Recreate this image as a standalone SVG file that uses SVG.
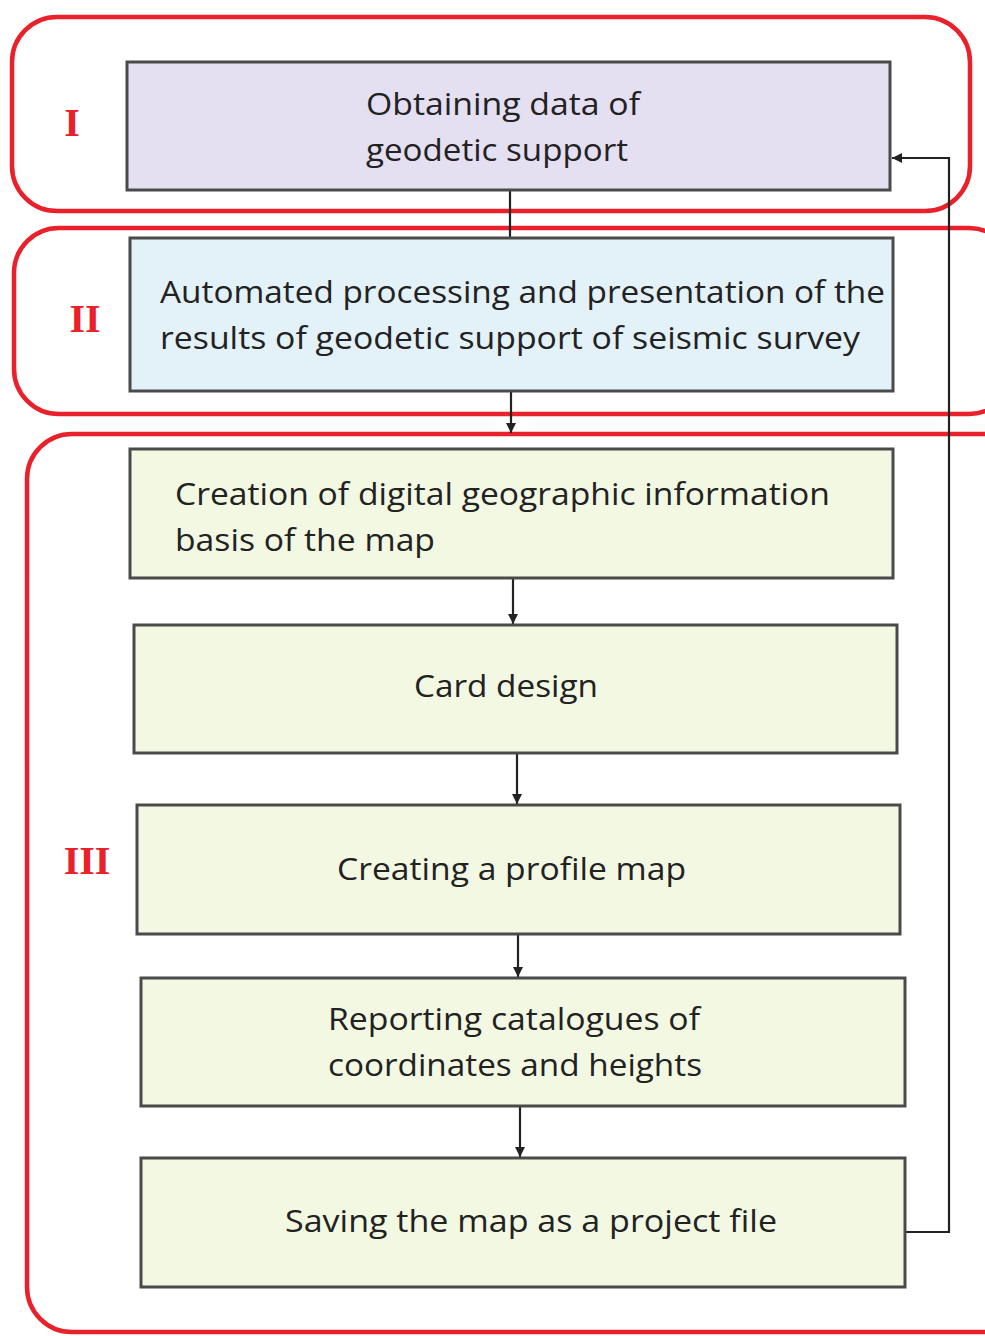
<svg xmlns="http://www.w3.org/2000/svg" width="985" height="1336" viewBox="0 0 985 1336">
<style>
.grp{fill:none;stroke:#e8212b;stroke-width:4.5}
.box{stroke:#4a4a4a;stroke-width:3}
.b1{fill:#e4dff1}
.b2{fill:#e3f1f8}
.b3{fill:#f3f8e2}
.t{font-family:"Open Sans","Liberation Sans",sans-serif;font-size:31px;fill:#222}
.rn{font-family:"Liberation Serif",serif;font-weight:bold;font-size:40px;fill:#e8212b}
.ln{fill:none;stroke:#222;stroke-width:2.2}
</style>
<defs>
<marker id="ah" viewBox="0 0 10 10" refX="10" refY="5" markerWidth="12" markerHeight="10" orient="auto" markerUnits="userSpaceOnUse">
<path d="M0,0 L10,5 L0,10 z" fill="#222"/>
</marker>
</defs>
<rect width="985" height="1336" fill="#fff"/>
<g id="groups">
<rect class="grp" x="12" y="17" width="958" height="194" rx="45"/>
<rect class="grp" x="14" y="228" width="1000" height="186" rx="45"/>
<rect class="grp" x="27" y="434" width="1000" height="898" rx="45"/>
<text class="rn" x="72" y="136" text-anchor="middle">I</text>
<text class="rn" x="85" y="332" text-anchor="middle">II</text>
<text class="rn" x="87" y="874" text-anchor="middle">III</text>
</g>
<g id="connectors">
<line class="ln" x1="510" y1="190" x2="510" y2="237"/>
<line class="ln" x1="511" y1="391" x2="511" y2="433" marker-end="url(#ah)"/>
<line class="ln" x1="513" y1="578" x2="513" y2="624" marker-end="url(#ah)"/>
<line class="ln" x1="517" y1="753" x2="517" y2="804" marker-end="url(#ah)"/>
<line class="ln" x1="518" y1="934" x2="518" y2="977" marker-end="url(#ah)"/>
<line class="ln" x1="520" y1="1106" x2="520" y2="1157" marker-end="url(#ah)"/>
<polyline class="ln" points="905,1232 949,1232 949,158 892,158" marker-end="url(#ah)"/>
</g>
<g id="n1">
<rect class="box b1" x="127" y="62" width="763" height="128"/>
<text class="t" x="366" y="115" textLength="274" lengthAdjust="spacingAndGlyphs">Obtaining data of</text>
<text class="t" x="366" y="161" textLength="262" lengthAdjust="spacingAndGlyphs">geodetic support</text>
</g>
<g id="n2">
<rect class="box b2" x="130" y="238" width="763" height="153"/>
<text class="t" x="160" y="303" textLength="725" lengthAdjust="spacingAndGlyphs">Automated processing and presentation of the</text>
<text class="t" x="160" y="349" textLength="700" lengthAdjust="spacingAndGlyphs">results of geodetic support of seismic survey</text>
</g>
<g id="n3">
<rect class="box b3" x="130" y="449" width="763" height="129"/>
<text class="t" x="175" y="505" textLength="655" lengthAdjust="spacingAndGlyphs">Creation of digital geographic information</text>
<text class="t" x="175" y="551" textLength="260" lengthAdjust="spacingAndGlyphs">basis of the map</text>
</g>
<g id="n4">
<rect class="box b3" x="134" y="625" width="763" height="128"/>
<text class="t" x="414" y="697" textLength="184" lengthAdjust="spacingAndGlyphs">Card design</text>
</g>
<g id="n5">
<rect class="box b3" x="137" y="805" width="763" height="129"/>
<text class="t" x="337" y="880" textLength="349" lengthAdjust="spacingAndGlyphs">Creating a profile map</text>
</g>
<g id="n6">
<rect class="box b3" x="141" y="978" width="764" height="128"/>
<text class="t" x="328" y="1030" textLength="372" lengthAdjust="spacingAndGlyphs">Reporting catalogues of</text>
<text class="t" x="328" y="1076" textLength="374" lengthAdjust="spacingAndGlyphs">coordinates and heights</text>
</g>
<g id="n7">
<rect class="box b3" x="141" y="1158" width="764" height="129"/>
<text class="t" x="285" y="1232" textLength="492" lengthAdjust="spacingAndGlyphs">Saving the map as a project file</text>
</g>
</svg>
